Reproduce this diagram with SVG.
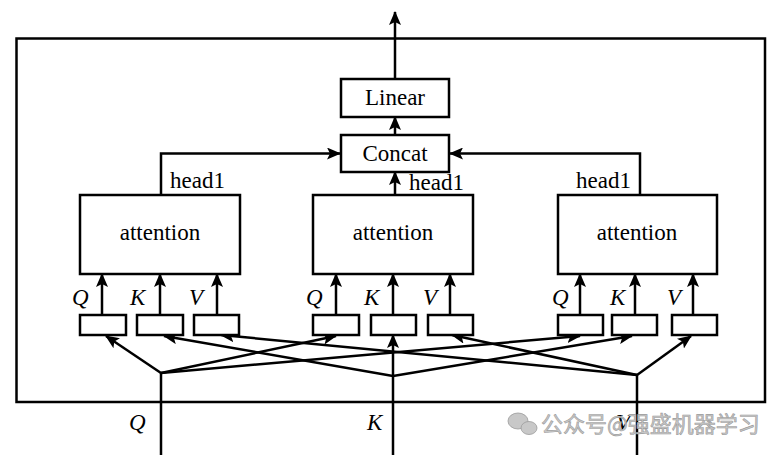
<svg xmlns="http://www.w3.org/2000/svg" width="781" height="455" viewBox="0 0 781 455">
<style>
.b{fill:#fff;stroke:#000;stroke-width:2.5}
.l{fill:none;stroke:#000;stroke-width:2.5}
.t{font-family:"Liberation Serif","Times New Roman",serif;font-size:23px;fill:#000}
.i{font-family:"Liberation Serif","Times New Roman",serif;font-size:23px;font-style:italic;fill:#000}
.w{font-family:"Noto Sans CJK SC",sans-serif;font-size:22px;fill:#c8c8c8;stroke:#9a9a9a;stroke-width:0.6}
</style>
<defs>
<marker id="a" markerUnits="userSpaceOnUse" markerWidth="14" markerHeight="12" viewBox="0 0 14 12" refX="13" refY="6" orient="auto">
<path d="M0,0 L14,6 L0,12 L3,6 Z" fill="#000"/>
</marker>
</defs>
<rect x="0" y="0" width="781" height="455" fill="#fff"/>
<rect class="l" x="16.5" y="38.5" width="748.5" height="363.5"/>

<g id="connectors">
<line class="l" x1="395" y1="79" x2="395" y2="12" marker-end="url(#a)"/>
<line class="l" x1="395" y1="135" x2="395" y2="117" marker-end="url(#a)"/>
<line class="l" x1="395" y1="195" x2="395" y2="172" marker-end="url(#a)"/>
<polyline class="l" points="161,195 161,153.5 340,153.5" marker-end="url(#a)"/>
<polyline class="l" points="640,195 640,153.5 450,153.5" marker-end="url(#a)"/>
<line class="l" x1="102" y1="315" x2="102" y2="274" marker-end="url(#a)"/>
<line class="l" x1="160" y1="315" x2="160" y2="274" marker-end="url(#a)"/>
<line class="l" x1="217" y1="315" x2="217" y2="274" marker-end="url(#a)"/>
<line class="l" x1="336" y1="315" x2="336" y2="274" marker-end="url(#a)"/>
<line class="l" x1="393" y1="315" x2="393" y2="274" marker-end="url(#a)"/>
<line class="l" x1="450" y1="315" x2="450" y2="274" marker-end="url(#a)"/>
<line class="l" x1="580" y1="315" x2="580" y2="274" marker-end="url(#a)"/>
<line class="l" x1="635" y1="315" x2="635" y2="274" marker-end="url(#a)"/>
<line class="l" x1="693" y1="315" x2="693" y2="274" marker-end="url(#a)"/>
<line class="l" x1="161" y1="455" x2="161" y2="373"/>
<line class="l" x1="393" y1="455" x2="393" y2="335" marker-end="url(#a)"/>
<line class="l" x1="637" y1="455" x2="637" y2="375"/>
<line class="l" x1="161" y1="373" x2="106" y2="336" marker-end="url(#a)"/>
<line class="l" x1="161" y1="373" x2="336" y2="336" marker-end="url(#a)"/>
<line class="l" x1="161" y1="373" x2="580" y2="336" marker-end="url(#a)"/>
<line class="l" x1="393" y1="376" x2="164" y2="336" marker-end="url(#a)"/>
<line class="l" x1="393" y1="376" x2="632" y2="336" marker-end="url(#a)"/>
<line class="l" x1="637" y1="375" x2="221" y2="335" marker-end="url(#a)"/>
<line class="l" x1="637" y1="375" x2="452" y2="335" marker-end="url(#a)"/>
<line class="l" x1="637" y1="375" x2="691" y2="336" marker-end="url(#a)"/>
</g>

<g id="linear"><rect class="b" x="341" y="79" width="108" height="38"/><text class="t" x="395" y="105" text-anchor="middle">Linear</text></g>
<g id="concat"><rect class="b" x="341" y="135" width="108" height="37"/><text class="t" x="395" y="161" text-anchor="middle">Concat</text></g>

<g id="head-left">
<text class="t" x="170" y="188">head1</text>
<rect class="b" x="80" y="195" width="160" height="79"/>
<text class="t" x="160" y="240" text-anchor="middle">attention</text>
</g>
<g id="head-mid">
<text class="t" x="409" y="190">head1</text>
<rect class="b" x="313" y="195" width="160" height="79"/>
<text class="t" x="393" y="240" text-anchor="middle">attention</text>
</g>
<g id="head-right">
<text class="t" x="576" y="188">head1</text>
<rect class="b" x="558" y="195" width="159" height="79"/>
<text class="t" x="637" y="240" text-anchor="middle">attention</text>
</g>

<g id="proj-left">
<rect class="b" x="80" y="315" width="46" height="20"/>
<rect class="b" x="137" y="315" width="46" height="20"/>
<rect class="b" x="194" y="315" width="45" height="20"/>
<text class="i" x="72" y="305">Q</text>
<text class="i" x="130" y="305">K</text>
<text class="i" x="189" y="305">V</text>
</g>
<g id="proj-mid">
<rect class="b" x="313" y="315" width="46" height="20"/>
<rect class="b" x="371" y="315" width="45" height="20"/>
<rect class="b" x="428" y="315" width="45" height="20"/>
<text class="i" x="306" y="305">Q</text>
<text class="i" x="364" y="305">K</text>
<text class="i" x="423" y="305">V</text>
</g>
<g id="proj-right">
<rect class="b" x="558" y="315" width="45" height="20"/>
<rect class="b" x="612" y="315" width="45" height="20"/>
<rect class="b" x="672" y="315" width="45" height="20"/>
<text class="i" x="552" y="305">Q</text>
<text class="i" x="610" y="305">K</text>
<text class="i" x="667" y="305">V</text>
</g>

<g id="inputs">
<text class="i" x="129" y="430">Q</text>
<text class="i" x="367" y="430">K</text>
<text class="i" x="616" y="430">V</text>
</g>

<g id="watermark">
<ellipse cx="518" cy="421" rx="10" ry="8" fill="#c8c8c8" stroke="#9a9a9a" stroke-width="0.8"/>
<ellipse cx="529" cy="428" rx="8" ry="6.5" fill="#c8c8c8" stroke="#9a9a9a" stroke-width="0.8"/>
<text class="w" x="541" y="432">公众号@强盛机器学习</text>
</g>
</svg>
